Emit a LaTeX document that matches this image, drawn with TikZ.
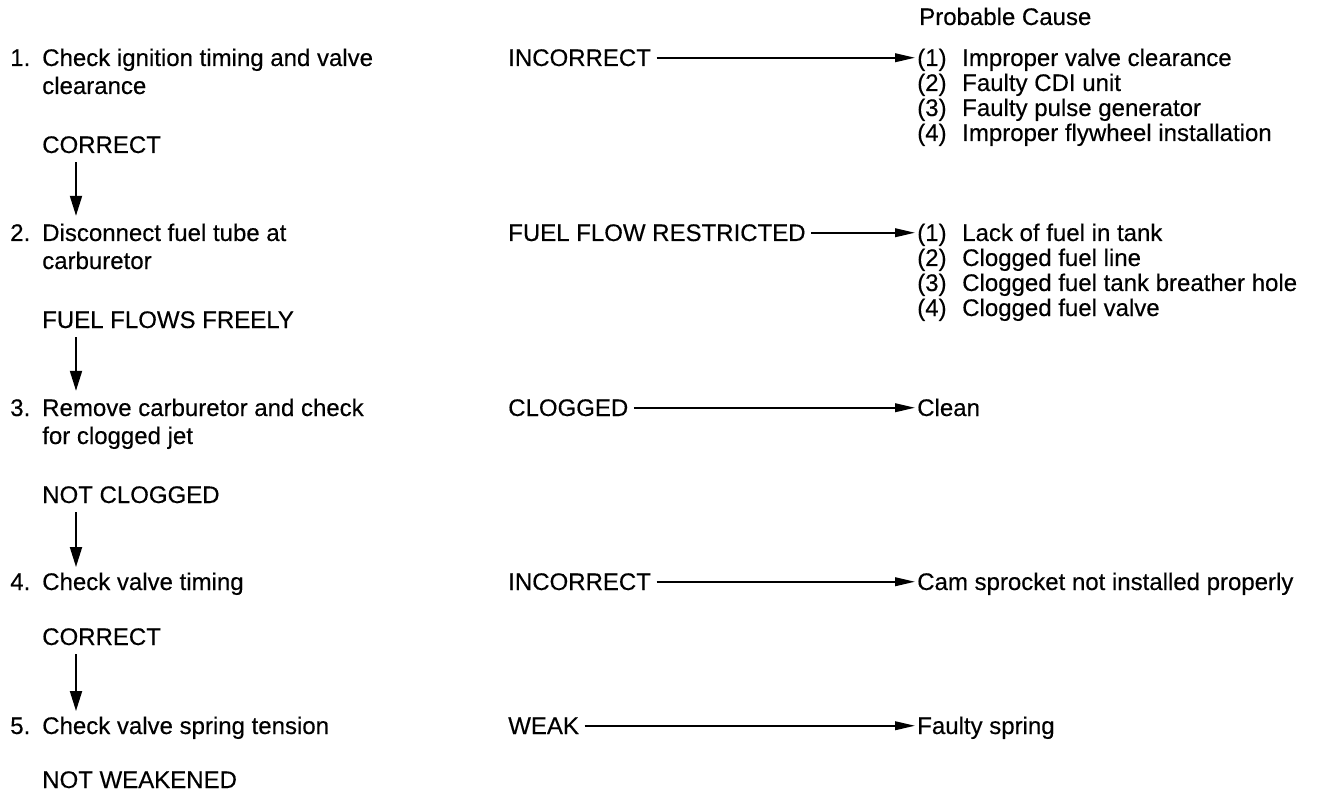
\documentclass[tikz,border=0pt]{standalone}
\usepackage{fontspec}
\setmainfont{Liberation Sans}[UprightFeatures={FakeBold=0.35}]
\usetikzlibrary{arrows.meta}

\tikzset{
  txt/.style={anchor=base west, inner sep=0pt, font=\fontsize{18}{21}\selectfont},
  down/.style={-{Triangle[length=15pt,width=9pt]}, line width=1.5pt, shorten <=6.5pt, shorten >=4pt},
  fail/.style={-{Triangle[length=15pt,width=6.5pt]}, line width=1.3pt, shorten <=4pt, shorten >=1.5pt},
}
\newcommand{\num}[1]{\makebox[33.75pt][l]{(#1)}}

\begin{document}
\begin{tikzpicture}[x=0.75pt, y=-0.75pt]
    \useasboundingbox (0,0) rectangle (1318,795);

    % Checks, left column
    \node[txt] (n1) at (10,66) {1.};
    \node[txt] (s1) at (42,66) {\begin{tabular}[t]{@{}l@{}}Check ignition timing and valve\\clearance\end{tabular}};
    \node[txt] (r1) at (42,153) {CORRECT};

    \node[txt] (n2) at (10,241) {2.};
    \node[txt] (s2) at (42,241) {\begin{tabular}[t]{@{}l@{}}Disconnect fuel tube at\\carburetor\end{tabular}};
    \node[txt] (r2) at (42,328) {FUEL FLOWS FREELY};

    \node[txt] (n3) at (10,416) {3.};
    \node[txt] (s3) at (42,416) {\begin{tabular}[t]{@{}l@{}}Remove carburetor and check\\for clogged jet\end{tabular}};
    \node[txt] (r3) at (42,503) {NOT CLOGGED};

    \node[txt] (n4) at (10,590) {4.};
    \node[txt] (s4) at (42,590) {Check valve timing};
    \node[txt] (r4) at (42,645) {CORRECT};

    \node[txt] (n5) at (10,734) {5.};
    \node[txt] (s5) at (42,734) {Check valve spring tension};
    \node[txt] (r5) at (42,788) {NOT WEAKENED};

    % Arrows down to the next check
    \draw[down] ([xshift=25.5pt]r1.south west) -- ([xshift=25.5pt]s2.north west);
    \draw[down] ([xshift=25.5pt]r2.south west) -- ([xshift=25.5pt]s3.north west);
    \draw[down] ([xshift=25.5pt]r3.south west) -- ([xshift=25.5pt]s4.north west);
    \draw[down] ([xshift=25.5pt]r4.south west) -- ([xshift=25.5pt]s5.north west);

    % Failed results
    \node[txt] (f1) at (508,66) {INCORRECT};
    \node[txt] (f2) at (508,241) {FUEL FLOW RESTRICTED};
    \node[txt] (f3) at (508,416) {CLOGGED};
    \node[txt] (f4) at (508,590) {INCORRECT};
    \node[txt] (f5) at (508,734) {WEAK};

    % Probable causes
    \node[txt] (head) at (919,25) {Probable Cause};
    \foreach \t [count=\i] in {Improper valve clearance, Faulty CDI unit,
        Faulty pulse generator, Improper flywheel installation}
        \node[txt] (a\i) at (917,41+25*\i) {\num{\i}\t};
    \foreach \t [count=\i] in {Lack of fuel in tank, Clogged fuel line,
        Clogged fuel tank breather hole, Clogged fuel valve}
        \node[txt] (b\i) at (917,216+25*\i) {\num{\i}\t};
    \node[txt] (c1) at (917,416) {Clean};
    \node[txt] (d1) at (917,590) {Cam sprocket not installed properly};
    \node[txt] (e1) at (917,734) {Faulty spring};

    \draw[fail] (f1.east) -- (f1.east -| a1.west);
    \draw[fail] (f2.east) -- (f2.east -| b1.west);
    \draw[fail] (f3.east) -- (f3.east -| c1.west);
    \draw[fail] (f4.east) -- (f4.east -| d1.west);
    \draw[fail] (f5.east) -- (f5.east -| e1.west);
\end{tikzpicture}
\end{document}
